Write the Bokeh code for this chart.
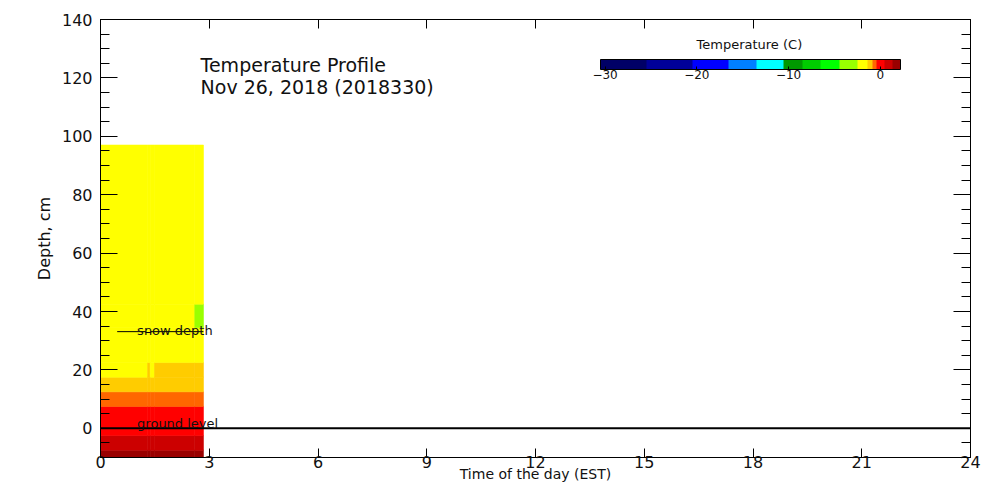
from bokeh.plotting import figure
from bokeh.models import (Range1d, LinearAxis, SingleIntervalTicker, FixedTicker, ColorBar,
                          LinearColorMapper, Label, Span, ColumnDataSource)
from bokeh.embed import file_html
from bokeh.resources import INLINE

# ---- colour scale (temperature levels, deg C) ----
level_bounds = [-30.5, -25.5, -20.5, -16.5, -13.5, -10.5, -8.5, -6.5, -4.5, -2.5,
                -1.4, -0.9, -0.4, 0.5, 1.3, 2.2]
level_colors = ["#000066", "#000099", "#0000FF", "#0080FF", "#00FFFF", "#009900",
                "#00CC00", "#00FF00", "#99FF00", "#FFFF00", "#FFCC00", "#FF6600",
                "#FF0000", "#CC0000", "#990000"]
cbar_ticks = [-30, -20, -10, 0]

# ---- temperature profile data ----
time_edges = [0.0, 1.30, 1.37, 1.49, 2.60, 2.84]          # hours (EST)
depth_edges = [-10, -7.5, -2.5, 7.5, 12.5, 17.5, 22.5, 34.5, 42.5, 97]  # cm
temps = [  # one row per depth layer (bottom -> top), one value per time column
    [1.8, 1.8, 1.8, 1.8, 1.8],
    [0.9, 0.9, 0.9, 0.9, 0.9],
    [0.0, 0.0, 0.0, 0.0, 0.0],
    [-0.7, -0.7, -0.7, -0.7, -0.7],
    [-1.2, -1.2, -1.2, -1.2, -1.2],
    [-2.0, -1.2, -2.0, -1.2, -1.2],
    [-2.0, -2.0, -2.0, -2.0, -2.0],
    [-2.0, -2.0, -2.0, -2.0, -3.5],
    [-2.0, -2.0, -2.0, -2.0, -2.0],
]
snow_time = [0.46, 1.25, 1.39, 2.84]
snow_depth = [33.1, 32.8, 33.1, 33.1]

x_ticks_interval = 3
y_ticks_interval = 20

# ---- build fine palette so that a linear mapper reproduces uneven levels ----
step = 0.05
low, high = level_bounds[0], level_bounds[-1]
n = int(round((high - low) / step))
palette = []
for i in range(n):
    v = low + (i + 0.5) * step
    k = 0
    while k < len(level_colors) - 1 and v >= level_bounds[k + 1]:
        k += 1
    palette.append(level_colors[k])
mapper = LinearColorMapper(palette=palette, low=low, high=high)

left, right, bottom, top, tv = [], [], [], [], []
for j, row in enumerate(temps):
    for i, t in enumerate(row):
        left.append(time_edges[i]); right.append(time_edges[i + 1])
        bottom.append(depth_edges[j]); top.append(depth_edges[j + 1])
        tv.append(t)
src = ColumnDataSource(dict(left=left, right=right, bottom=bottom, top=top, temp=tv))

FONT = "DejaVu Sans"
TXT = "#111111"

p = figure(width=984, height=484, output_backend="svg", toolbar_location=None,
           x_range=Range1d(0, 24), y_range=Range1d(-10, 140),
           min_border_left=100, min_border_right=14, min_border_top=19, min_border_bottom=25,
           x_axis_location=None, y_axis_location=None)
p.xgrid.visible = False
p.ygrid.visible = False
p.outline_line_color = "black"
p.outline_line_width = 1
p.background_fill_color = "white"
p.border_fill_color = "white"

cmap = {"field": "temp", "transform": mapper}
p.quad(left="left", right="right", bottom="bottom", top="top", source=src,
       fill_color=cmap, line_color=cmap, line_width=0.6)

p.step(snow_time, snow_depth, mode="after", line_color="black", line_width=1)
p.add_layout(Span(location=0, dimension="width", line_color="black", line_width=2))

def mk_axis(kind, labels):
    if kind == "x":
        ax = LinearAxis(ticker=SingleIntervalTicker(interval=x_ticks_interval, num_minor_ticks=0))
        ax.major_tick_in = 9
    else:
        ax = LinearAxis(ticker=SingleIntervalTicker(interval=y_ticks_interval, num_minor_ticks=4))
        ax.major_tick_in = 17
        ax.minor_tick_in = 9
        ax.minor_tick_out = 0
        ax.minor_tick_line_color = "black"
    ax.major_tick_out = 0
    ax.axis_line_color = "black"
    ax.major_tick_line_color = "black"
    if labels:
        ax.major_label_text_font = FONT
        ax.major_label_text_font_size = "16px"
        ax.major_label_text_color = TXT
        ax.axis_label_text_font = FONT
        ax.axis_label_text_font_style = "normal"
        ax.axis_label_text_color = TXT
    else:
        ax.major_label_text_font_size = "1px"
        ax.major_label_text_color = None
        ax.major_label_standoff = 0
    return ax

bx = mk_axis("x", True)
bx.major_label_standoff = -2
bx.axis_label = "Time of the day (EST)"
bx.axis_label_text_font_size = "14px"
bx.axis_label_standoff = -5

lx = mk_axis("y", True)
lx.major_label_standoff = 8
lx.axis_label = "Depth, cm"
lx.axis_label_text_font_size = "16px"
lx.axis_label_standoff = 5
p.add_layout(bx, "below")
p.add_layout(lx, "left")
p.add_layout(mk_axis("x", False), "above")
p.add_layout(mk_axis("y", False), "right")

def lab(x, y, text, size, baseline="middle", align="left"):
    p.add_layout(Label(x=x, y=y, text=text, text_font=FONT, text_font_size=size,
                       text_baseline=baseline, text_align=align, text_color=TXT))

lab(2.76, 124.3, "Temperature Profile", "19px")
lab(2.76, 117.0, "Nov 26, 2018 (2018330)", "19px")
lab(17.9, 131.3, "Temperature (C)", "13px", align="center")
lab(1.01, 33.4, "snow depth", "13px", baseline="alphabetic")
lab(1.01, 1.6, "ground level", "13px", baseline="alphabetic")

cb = ColorBar(color_mapper=mapper, orientation="horizontal", width=300, height=10,
              location=(500, 376), padding=0, ticker=FixedTicker(ticks=cbar_ticks),
              major_label_text_font=FONT, major_label_text_font_size="12px",
              major_label_text_color=TXT,
              label_standoff=0, major_tick_in=3, major_tick_out=0,
              major_tick_line_color="black", bar_line_color="black",
              border_line_color=None, background_fill_color=None)
p.add_layout(cb)

open("out.html", "w").write(file_html(p, INLINE))
